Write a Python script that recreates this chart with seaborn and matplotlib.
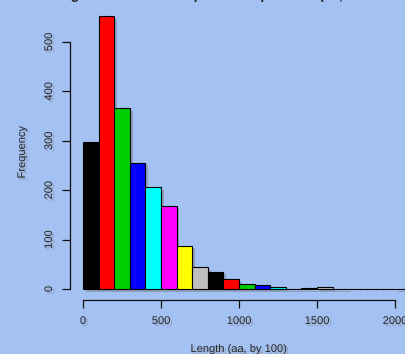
import matplotlib
matplotlib.use("Agg")
import matplotlib.pyplot as plt
import matplotlib.patheffects as pe
import numpy as np
import seaborn as sns

# histogram counts per 100-aa bin
bin_edges = list(range(0, 2200, 100))
counts = [298, 553, 366, 256, 206, 168, 88, 45, 35, 20, 11,
          8, 5, 1, 2, 4, 1, 0, 0, 0, 1]
r_palette = ["#000000", "#FF0000", "#00CD00", "#0000FF",
             "#00FFFF", "#FF00FF", "#FFFF00", "#BEBEBE"]
x_ticks = [0, 500, 1000, 1500, 2000]
y_ticks = [0, 100, 200, 300, 400, 500]

BG = "#A4C1F3"

sns.set_style("white")
plt.rcParams["font.family"] = ["Liberation Sans", "DejaVu Sans"]

W, H = 405, 354
fig = plt.figure(figsize=(W / 100, H / 100), dpi=100, facecolor=BG)

# pixel geometry: x=0 -> 83px, 500 units = 78px ; y=0 -> 289px, 500 units = 247px
ax_left, ax_right, ax_bottom = 70, 405, 300
ax = fig.add_axes([ax_left / W, 1 - ax_bottom / H, (ax_right - ax_left) / W, ax_bottom / H])
ax.set_facecolor(BG)

centers = [e + 50 for e in bin_edges[:-1]]
sns.histplot(x=centers, weights=counts, bins=bin_edges, ax=ax,
             edgecolor="black", linewidth=0.8, alpha=1)

shadow = [pe.SimplePatchShadow(offset=(2, -2), shadow_rgbFace="#5a4a3a", alpha=0.3), pe.Normal()]
for i, patch in enumerate(ax.patches):
    patch.set_facecolor(r_palette[i % len(r_palette)])
    patch.set_path_effects(shadow)

xs = 0.156
ax.set_xlim((ax_left - 83) / xs, (ax_right - 83) / xs)
ys = 247 / 500
ax.set_ylim(-(ax_bottom - 289) / ys, 289 / ys)

for s in ["top", "right"]:
    ax.spines[s].set_visible(False)
ax.spines["left"].set_bounds(0, 500)
ax.spines["bottom"].set_bounds(0, 2000)
for s in ["left", "bottom"]:
    ax.spines[s].set_linewidth(0.9)
    ax.spines[s].set_color("#111111")

txt_shadow = [pe.withSimplePatchShadow(offset=(1.5, -1.5), shadow_rgbFace="#6a5a4a", alpha=0.3)]

ax.set_xticks(x_ticks)
ax.set_yticks(y_ticks)
ax.set_xticklabels([str(v) for v in x_ticks], fontsize=8, path_effects=txt_shadow)
ax.set_yticklabels([str(v) for v in y_ticks], fontsize=8, rotation=90, va="center",
                   path_effects=txt_shadow)
ax.tick_params(axis="both", direction="out", length=5.5, width=0.9, color="#111111",
               left=True, bottom=True)
ax.tick_params(axis="x", pad=6)
ax.tick_params(axis="y", pad=6)

ax.set_xlabel("")
ax.set_ylabel("")
fig.text(239 / W, 1 - 349 / H, "Length (aa, by 100)", fontsize=8, ha="center", va="center",
         path_effects=txt_shadow)
fig.text(22 / W, 1 - 152 / H, "Frequency", fontsize=8, ha="center", va="center",
         rotation=90, path_effects=txt_shadow)
# title mostly clipped by the top edge in the original
fig.text(245 / W, 1 + 0.5 / H, "Length distribution of predicted proteins (aa, binned by 100)",
         fontsize=10, fontweight="bold", ha="center", va="baseline")

fig.savefig("out.png", dpi=100, facecolor=BG)
